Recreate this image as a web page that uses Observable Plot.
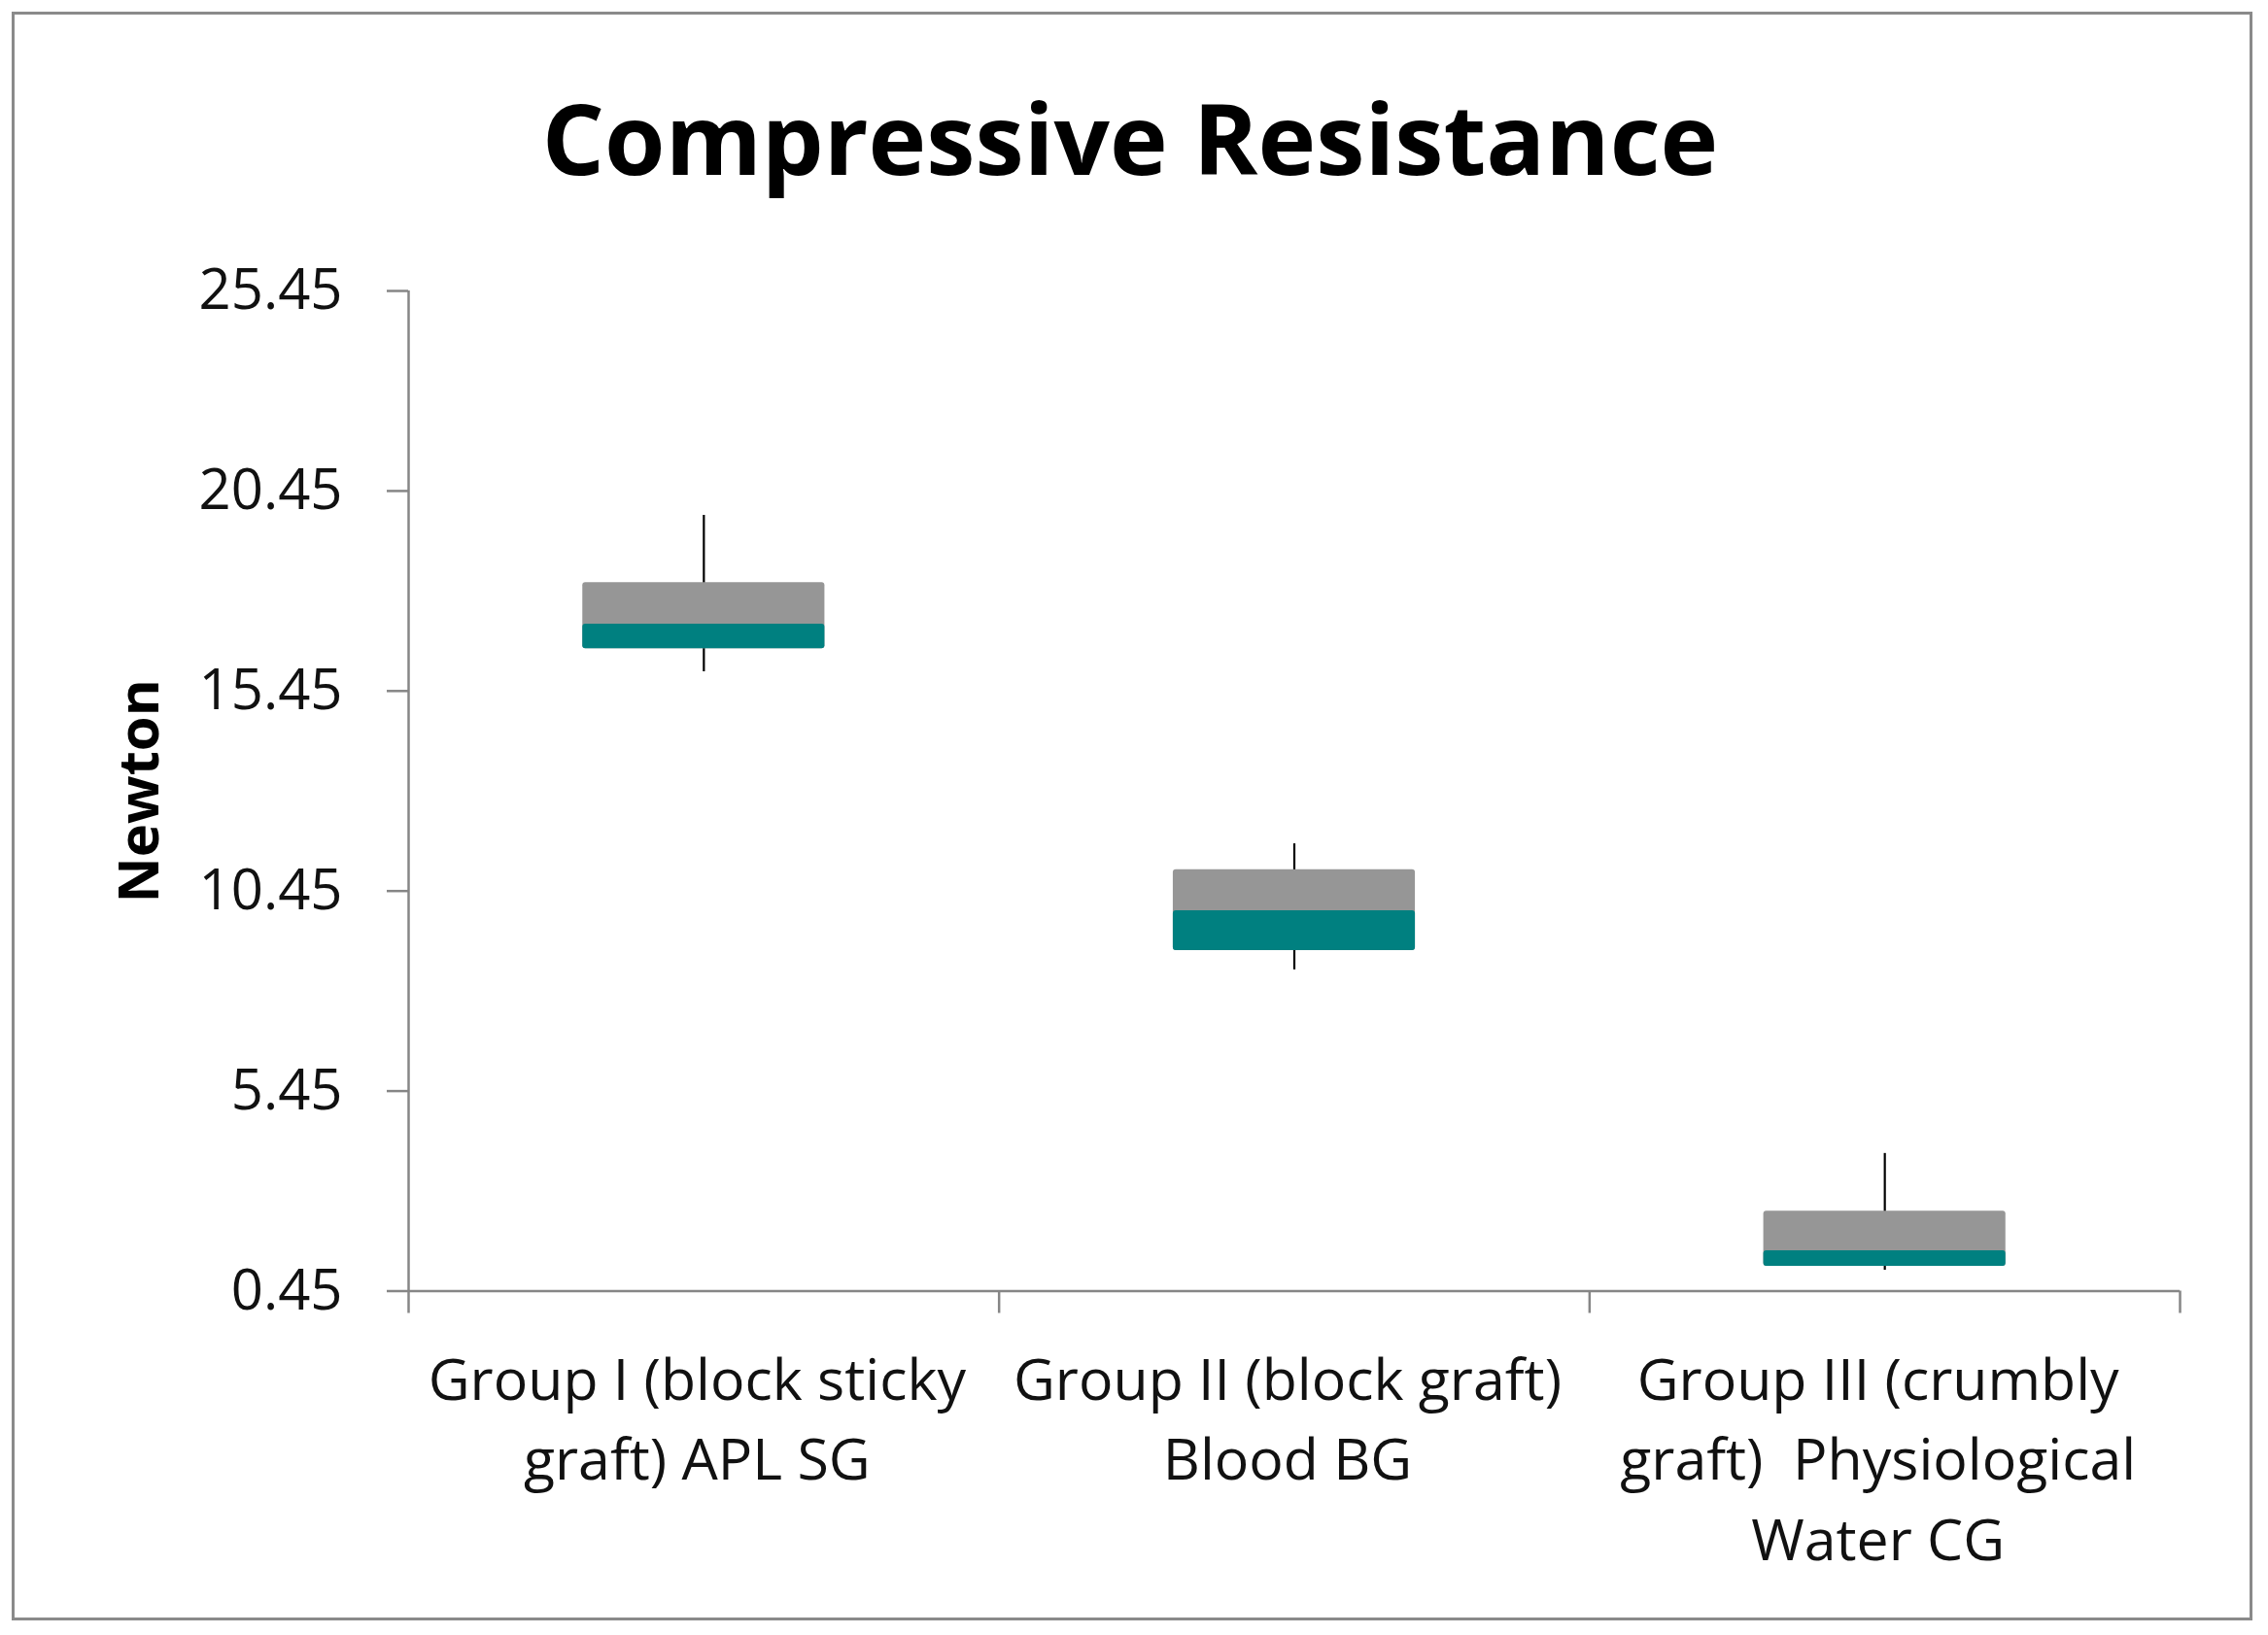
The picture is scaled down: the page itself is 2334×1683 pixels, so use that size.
<!DOCTYPE html>
<html>
<head>
<meta charset="utf-8">
<script src="https://cdn.jsdelivr.net/npm/d3@7"></script>
<script src="https://cdn.jsdelivr.net/npm/@observablehq/plot@0.6"></script>
<style>
  html, body { margin: 0; padding: 0; background: #fff; }
  #wrap { position: relative; width: 2334px; height: 1683px; overflow: hidden; background: #fff; }
  #frame { position: absolute; left: 12px; top: 12px; width: 2300px; height: 1650px; border: 3px solid #8a8a8a; }
  #title { position: absolute; left: 0; top: 91px; width: 2326px; text-align: center;
           font-family: "Open Sans", sans-serif; font-weight: 700; font-size: 101px; line-height: 101px; color: #000; }
  #chart { position: absolute; left: 0; top: 0; }
</style>
</head>
<body>
<div id="wrap">
  <div id="frame"></div>
  <div id="title">Compressive Resistance</div>
  <div id="chart"></div>
</div>
<script>
// ---- data ----
const groups = [
  "Group I (block sticky\ngraft) APL SG",
  "Group II (block graft)\nBlood BG",
  "Group III (crumbly\ngraft)  Physiological\nWater CG"
];
const high   = [19.84, 11.63, 3.89];
const upper  = [18.16, 10.98, 2.45];
const middle = [17.12, 9.96, 1.46];
const lower  = [16.51, 8.96, 1.07];
const low    = [15.93, 8.48, 0.97];
const yTicks = [0.45, 5.45, 10.45, 15.45, 20.45, 25.45];
const yLabel = "Newton";

const rows = groups.map((g, i) => ({
  i, group: g, high: high[i], upper: upper[i], middle: middle[i], lower: lower[i], low: low[i]
}));
const boundaries = d3.range(groups.length + 1);
const half = 0.205;

const axisGray = "#868686";
const chart = Plot.plot({
  width: 2334,
  height: 1683,
  marginTop: 299,
  marginBottom: 354.5,
  marginLeft: 420,
  marginRight: 91,
  style: { fontFamily: "Open Sans, sans-serif", fontSize: "58px", background: "transparent", color: "#111", overflow: "visible" },
  x: { type: "linear", domain: [0, groups.length], axis: null },
  y: { domain: [yTicks[0], yTicks[yTicks.length - 1]], axis: null },
  marks: [
    // whiskers
    Plot.ruleX(rows, { x: d => d.i + 0.5, y1: "low", y2: "high", stroke: "#000", strokeWidth: 2.2 }),
    // boxes
    Plot.rect(rows, { x1: d => d.i + 0.5 - half, x2: d => d.i + 0.5 + half, y1: "lower", y2: "upper", fill: "#969696", rx: 3 }),
    Plot.rect(rows, { x1: d => d.i + 0.5 - half, x2: d => d.i + 0.5 + half, y1: "lower", y2: "middle", fill: "#008080", rx: 3 }),
    // axes lines
    Plot.ruleY([yTicks[0]], { stroke: axisGray, strokeWidth: 2.5 }),
    Plot.ruleX([0], { stroke: axisGray, strokeWidth: 2.5 }),
    Plot.axisY({ ticks: yTicks, tickFormat: d3.format(".2f"), tickSize: 22, tickPadding: 46,
                 stroke: axisGray, strokeWidth: 2.5, fill: "#111", fontSize: 58, label: null }),
    Plot.axisX({ ticks: boundaries, tickFormat: () => "", tickSize: 23, stroke: axisGray, strokeWidth: 2.5, label: null }),
    // category labels
    Plot.text(rows, { x: d => d.i + 0.5, text: "group", frameAnchor: "bottom", lineAnchor: "top",
                      dy: 53, dx: -7, fontSize: 59, lineHeight: 1.4, fill: "#111" }),
    // y label
    Plot.text([yLabel], { frameAnchor: "left", textAnchor: "middle", rotate: -90, dx: -276, fontSize: 58, fontWeight: 700, fill: "#000" })
  ]
});
document.getElementById("chart").appendChild(chart);
</script>
</body>
</html>
